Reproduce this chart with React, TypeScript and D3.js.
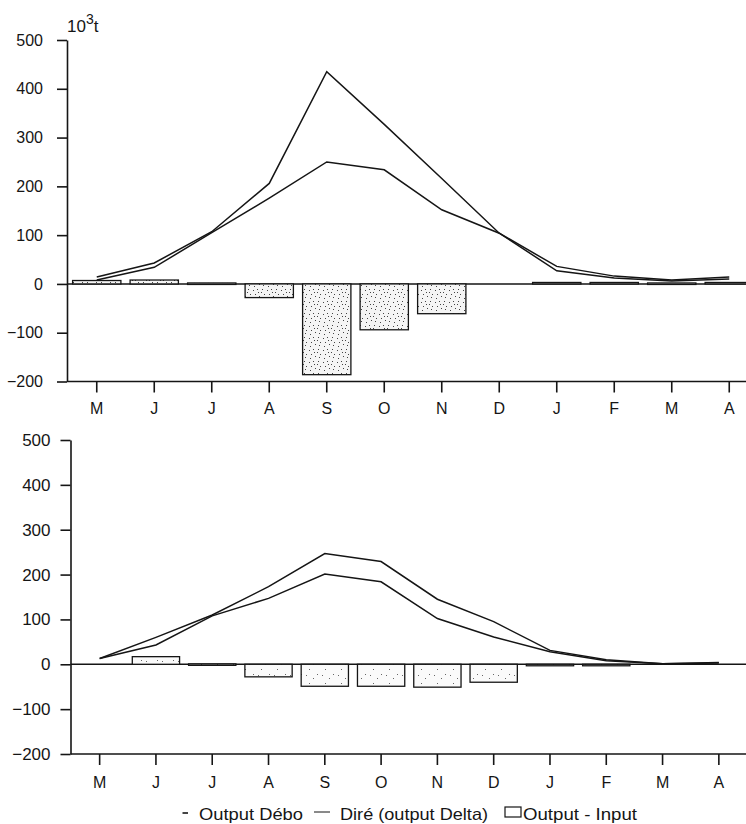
import { useRef, useEffect } from "react";
import * as d3 from "d3";

// DATA
const months = ["M", "J", "J", "A", "S", "O", "N", "D", "J", "F", "M", "A"];
const yTicks = [-200, -100, 0, 100, 200, 300, 400, 500];

// upper panel (10^3 t)
const topDebo = [14, 43, 107, 206, 435, 327, 216, 104, 36, 16, 8, 14];
const topDire = [8, 34, 105, 176, 250, 234, 152, 104, 27, 12, 6, 10];
const topDiff = [7, 8, 2, -28, -186, -94, -61, 0, 3, 3, 2, 3];

// lower panel (10^3 t)
const botDebo = [13, 60, 110, 173, 247, 229, 145, 95, 31, 10, 1, 3];
const botDire = [13, 43, 108, 147, 201, 184, 102, 61, 28, 8, 1, 4];
const botDiff = [0, 17, 1, -28, -49, -49, -51, -40, -3, -3, 0, 0];

// stipple dots for the bar fill (decoration only)
const dotsDense = [[1, 2], [5, 1], [9, 4], [3, 6], [7, 8], [11, 9], [2, 10], [6, 4], [10, 1], [12, 6]];
const dotsLight = [[2, 3], [9, 6], [5, 11], [13, 2]];

const FONT = "'Liberation Sans', Arial, sans-serif";
const INK = "#151515";

function Panel({ debo, dire, diff, x0, x1, yTop, yBottom, yLabelGap, yFont, xLabelGap, fill, unit }) {
  const gx = useRef(null);
  const gy = useRef(null);
  const x = d3.scaleBand(d3.range(months.length), [x0, x1]).paddingInner(0.16).paddingOuter(0.08);
  const y = d3.scaleLinear([-200, 500], [yBottom, yTop]);
  const cx = (i) => x(i) + x.bandwidth() / 2;
  const line = d3.line((d, i) => cx(i), y);
  const axisX = x0 - 1;

  useEffect(() => {
    const ax = d3.select(gx.current)
      .call(d3.axisBottom(x).tickSize(11).tickSizeOuter(0).tickPadding(xLabelGap).tickFormat((i) => months[i]));
    ax.selectAll("path,line").attr("stroke", INK).attr("stroke-width", 1.6);
    ax.select(".domain").attr("d", `M${axisX},0H760`);
    ax.selectAll("text").attr("font-family", FONT).attr("font-size", 16).attr("fill", INK);
    const ay = d3.select(gy.current)
      .call(d3.axisLeft(y).tickValues(yTicks).tickSize(10).tickSizeOuter(0).tickPadding(yLabelGap));
    ay.selectAll("path,line").attr("stroke", INK).attr("stroke-width", 1.6);
    ay.selectAll("text").attr("font-family", FONT).attr("font-size", yFont).attr("fill", INK);
  }, []);

  return (
    <g>
      <line x1={axisX} x2={746} y1={y(0)} y2={y(0)} stroke={INK} strokeWidth={1.4} />
      <g>
        {diff.map((d, i) => (
          d === 0 ? null :
          <rect key={i} x={x(i)} width={x.bandwidth()}
            y={Math.min(y(0), y(d))} height={Math.max(1.5, Math.abs(y(d) - y(0)))}
            fill={`url(#${fill})`} stroke={INK} strokeWidth={1.3} />
        ))}
      </g>
      <path d={line(debo)} fill="none" stroke={INK} strokeWidth={1.5} />
      <path d={line(dire)} fill="none" stroke={INK} strokeWidth={1.5} />
      <g ref={gx} transform={`translate(0,${yBottom})`} />
      <g ref={gy} transform={`translate(${axisX},0)`} />
      {unit && (
        <text x={axisX} y={yTop - 8} fontFamily={FONT} fontSize={17} fill={INK}>
          10<tspan fontSize={14} dy={-8}>3</tspan><tspan dy={8}>t</tspan>
        </text>
      )}
    </g>
  );
}

export default function App() {
  return (
    <svg width={746} height={824} style={{ position: "absolute", left: 0, top: 0, background: "#fff" }}>
      <defs>
        <pattern id="stippleDense" width={14} height={12} patternUnits="userSpaceOnUse">
          <rect width={14} height={12} fill="#f4f4f4" />
          {dotsDense.map(([a, b], i) => <rect key={i} x={a} y={b} width={1} height={1} fill="#444" />)}
        </pattern>
        <pattern id="stippleLight" width={16} height={14} patternUnits="userSpaceOnUse">
          <rect width={16} height={14} fill="#fafafa" />
          {dotsLight.map(([a, b], i) => <rect key={i} x={a} y={b} width={1} height={1} fill="#666" />)}
        </pattern>
      </defs>
      <Panel debo={topDebo} dire={topDire} diff={topDiff} x0={68} x1={758}
        yTop={40} yBottom={381.5} yLabelGap={14} yFont={16} xLabelGap={10} fill="stippleDense" unit />
      <Panel debo={botDebo} dire={botDire} diff={botDiff} x0={71.5} x1={747}
        yTop={440} yBottom={754} yLabelGap={10} yFont={17} xLabelGap={12} fill="stippleLight" />
      <g fontFamily={FONT} fontSize={16.5} fill={INK}>
        <line x1={182.5} x2={188} y1={813} y2={813} stroke={INK} strokeWidth={1.6} />
        <text x={199} y={820} textLength={104} lengthAdjust="spacingAndGlyphs">Output Débo</text>
        <line x1={314} x2={330} y1={812} y2={812} stroke={INK} strokeWidth={1} />
        <text x={340} y={820} textLength={148} lengthAdjust="spacingAndGlyphs">Diré (output Delta)</text>
        <rect x={505} y={807} width={16} height={10} fill="#fff" stroke={INK} strokeWidth={1.2} />
        <text x={523} y={820} textLength={114} lengthAdjust="spacingAndGlyphs">Output - Input</text>
      </g>
    </svg>
  );
}
